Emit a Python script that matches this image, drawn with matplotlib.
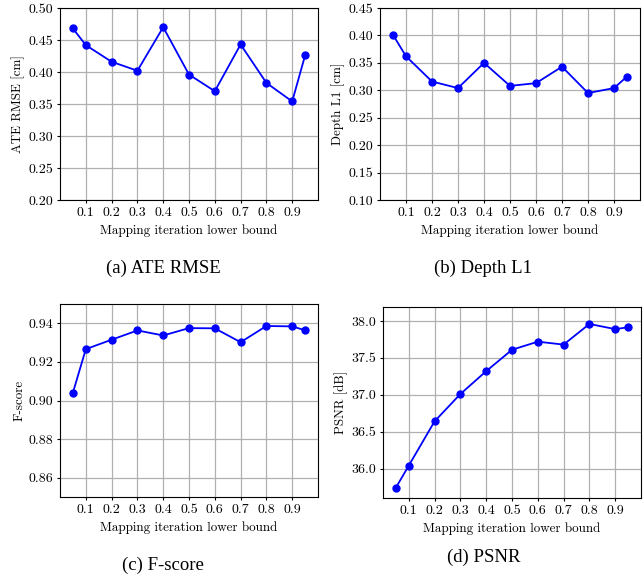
import numpy as np
import matplotlib
matplotlib.use("Agg")
import matplotlib.pyplot as plt

plt.rcParams.update({
    "font.family": "serif",
    "font.serif": ["cmr10"],
    "mathtext.fontset": "cm",
    "axes.formatter.use_mathtext": True,
    "font.size": 10,
})

lower_bound = [0.05, 0.1, 0.2, 0.3, 0.4, 0.5, 0.6, 0.7, 0.8, 0.9, 0.95]
xticks = [0.1, 0.2, 0.3, 0.4, 0.5, 0.6, 0.7, 0.8, 0.9]

ate_rmse = [0.468, 0.442, 0.416, 0.402, 0.470, 0.396, 0.370, 0.443, 0.383, 0.354, 0.426]
depth_l1 = [0.401, 0.362, 0.316, 0.304, 0.350, 0.308, 0.313, 0.343, 0.295, 0.304, 0.325]
f_score = [0.904, 0.9266, 0.9315, 0.9363, 0.9337, 0.9375, 0.9374, 0.9302, 0.9386, 0.9384, 0.9364]
psnr = [35.74, 36.04, 36.64, 37.01, 37.32, 37.61, 37.72, 37.68, 37.96, 37.89, 37.915]

panels = [
    (ate_rmse, "ATE RMSE [cm]", (0.20, 0.50), np.arange(0.20, 0.501, 0.05), "{:.2f}", "(a) ATE RMSE"),
    (depth_l1, "Depth L1 [cm]", (0.10, 0.45), np.arange(0.10, 0.451, 0.05), "{:.2f}", "(b) Depth L1"),
    (f_score, "F-score", (0.85, 0.95), np.arange(0.86, 0.941, 0.02), "{:.2f}", "(c) F-score"),
    (psnr, "PSNR [dB]", (35.6, 38.19), np.arange(36.0, 38.01, 0.5), "{:.1f}", "(d) PSNR"),
]

# axes rectangles in pixels: left, top, right, bottom
W, H = 644, 579
rects = [(60, 8, 318, 200), (380, 8, 640, 200), (60, 304, 318, 497), (383, 307, 641, 498)]
caps = [(163, 268), (483, 268), (163, 565), (484, 557)]

fig = plt.figure(figsize=(W / 100, H / 100), dpi=100)

for (vals, ylab, ylim, yt, fmt, cap), (l, t, r, b), (cx, cy) in zip(panels, rects, caps):
    ax = fig.add_axes([l / W, 1 - b / H, (r - l) / W, (b - t) / H])
    ax.plot(lower_bound, vals, "o-", color="blue", markersize=5, linewidth=1.3, zorder=3)
    ax.set_xlim(0.0, 1.0)
    ax.set_ylim(*ylim)
    ax.set_xticks(xticks)
    ax.set_xticklabels([f"{v:.1f}" for v in xticks])
    ax.set_yticks(yt)
    ax.set_yticklabels([fmt.format(v) for v in yt])
    ax.grid(True, color="#b0b0b0", linewidth=0.9)
    ax.set_axisbelow(True)
    ax.tick_params(labelsize=10, length=2.5, pad=2.5)
    ax.set_xlabel("Mapping iteration lower bound", fontsize=9.4, labelpad=3.5)
    ax.set_ylabel(ylab, fontsize=9.4, labelpad=2)
    fig.text(cx / W, 1 - cy / H, cap, ha="center", va="center",
             family="Liberation Serif", fontsize=13.5)

fig.savefig("out.png", dpi=100)
